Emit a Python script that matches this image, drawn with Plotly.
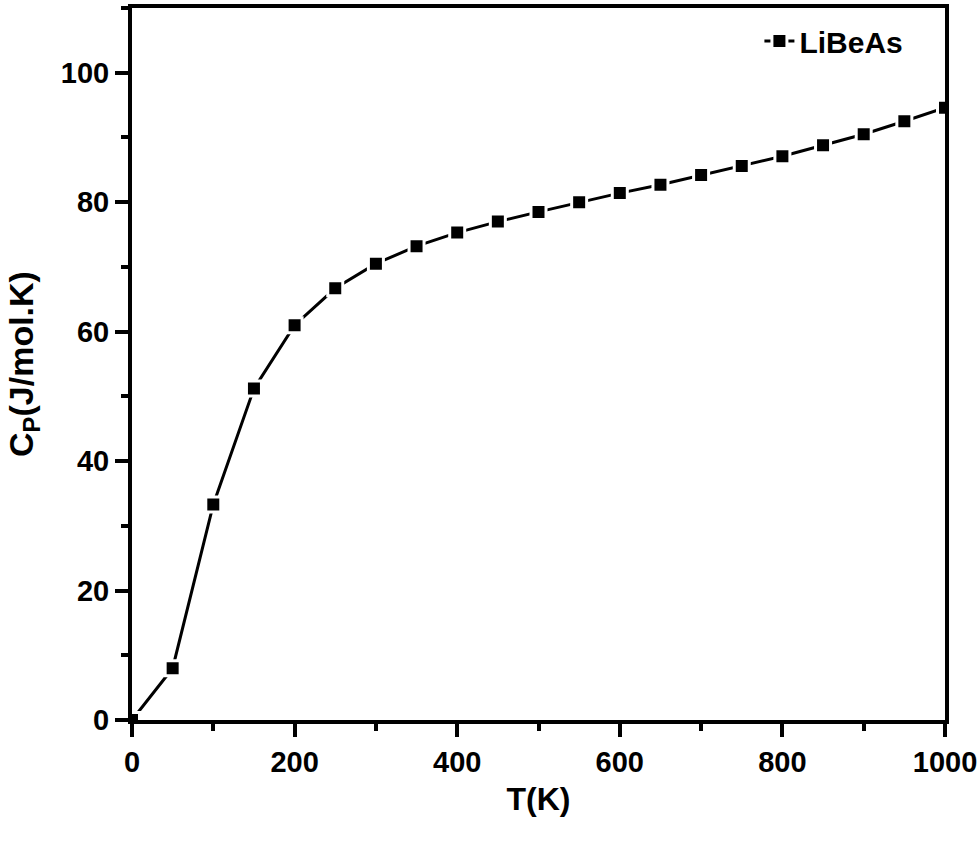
import plotly.graph_objects as go

T = [0, 50, 100, 150, 200, 250, 300, 350, 400, 450, 500, 550, 600, 650, 700, 750, 800, 850, 900, 950, 1000]
Cp = [0.0, 8.0, 33.3, 51.2, 61.0, 66.7, 70.5, 73.2, 75.3, 77.0, 78.5, 80.0, 81.4, 82.7,
      84.2, 85.6, 87.1, 88.8, 90.5, 92.5, 94.6]
series_name = "LiBeAs"
x_ticks = [0, 200, 400, 600, 800, 1000]
y_ticks = [0, 20, 40, 60, 80, 100]

FONT = "Liberation Sans Narrow, Arial Narrow, Liberation Sans, Arial, sans-serif"

fig = go.Figure()
fig.add_trace(go.Scatter(
    x=T, y=Cp, mode="lines+markers", name=series_name,
    line=dict(color="black", width=3),
    marker=dict(symbol="square", size=15, color="black", line=dict(color="white", width=3)),
))

axis_common = dict(
    showgrid=False, zeroline=False, showline=True, linecolor="black", linewidth=4,
    mirror=True, ticks="outside", ticklen=13, tickwidth=4, tickcolor="black",
    ticklabeloverflow="allow", automargin=False,
    tickfont=dict(family=FONT, size=29, color="black", weight="bold"),
)

fig.update_xaxes(
    range=[0, 1000], tickvals=x_ticks,
    minor=dict(dtick=100, ticks="outside", ticklen=7, tickwidth=4, tickcolor="black"),
    title=dict(text="<b>T(K)</b>", font=dict(family=FONT, size=32, color="black"), standoff=12),
    **axis_common,
)
fig.update_yaxes(
    range=[0, 110], tickvals=y_ticks,
    minor=dict(dtick=10, ticks="outside", ticklen=7, tickwidth=4, tickcolor="black"),
    title=dict(text="<b>C<sub>P</sub>(J/mol.K)</b>", font=dict(family=FONT, size=34, color="black"), standoff=18),
    **axis_common,
)

fig.update_layout(
    width=979, height=847,
    margin=dict(l=132, r=34, t=8, b=127),
    plot_bgcolor="white", paper_bgcolor="white",
    showlegend=True,
    legend=dict(x=0.955, y=0.99, xanchor="right", yanchor="top", bgcolor="rgba(0,0,0,0)",
                font=dict(family=FONT, size=30, color="black", weight="bold")),
)

fig.write_html("out.html")
